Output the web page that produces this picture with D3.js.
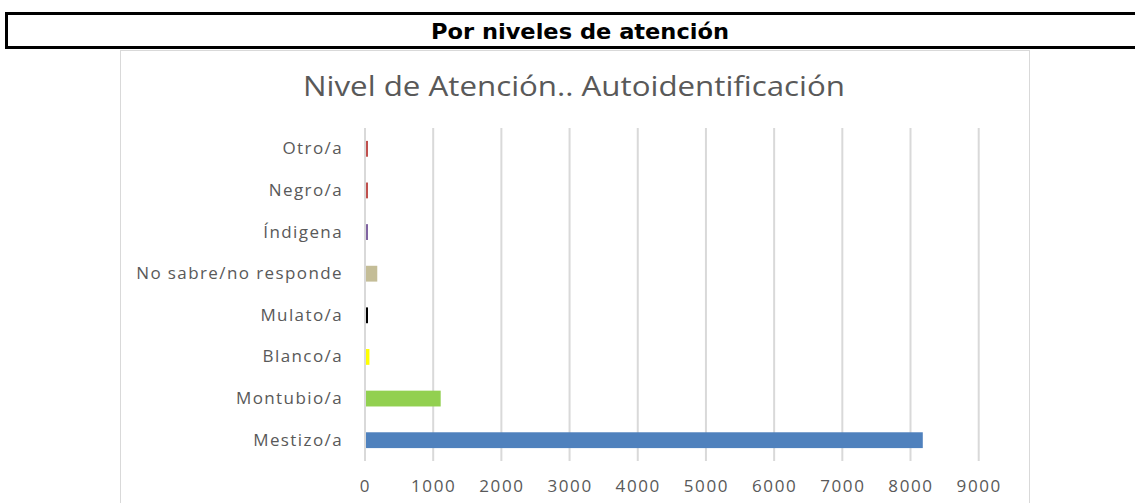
<!DOCTYPE html>
<html>
<head>
<meta charset="utf-8">
<script src="https://cdn.jsdelivr.net/npm/d3@7"></script>
<style>
  body { margin: 0; background: #fff; }
  svg { display: block; }
</style>
</head>
<body>
<svg id="chart" width="1135" height="503"></svg>
<script>
// Data
var categories = ['Mestizo/a', 'Montubio/a', 'Blanco/a', 'Mulato/a', 'No sabre/no responde', 'Índigena', 'Negro/a', 'Otro/a'];
var values = [8180, 1110, 65, 25, 180, 20, 20, 20];
var barColors = ['#4f81bd', '#92d050', '#ffff00', '#000000', '#c4bd97', '#8064a2', '#c0504d', '#c0504d'];
var xTicks = [0, 1000, 2000, 3000, 4000, 5000, 6000, 7000, 8000, 9000];

var svg = d3.select('#chart');
var textColor = '#595959';

// Header band
svg.append('rect')
  .attr('x', 6.5).attr('y', 13.5)
  .attr('width', 1140).attr('height', 34)
  .attr('fill', 'none')
  .attr('stroke', '#000')
  .attr('stroke-width', 3);

svg.append('text')
  .attr('x', 580).attr('y', 39)
  .attr('text-anchor', 'middle')
  .style('font-family', '"DejaVu Sans Condensed", "Open Sans", sans-serif')
  .style('font-stretch', 'condensed')
  .style('font-weight', 'bold')
  .style('font-size', '22px')
  .attr('textLength', 298)
  .attr('lengthAdjust', 'spacingAndGlyphs')
  .text('Por niveles de atención');

// Chart frame
svg.append('rect')
  .attr('x', 120.5).attr('y', 50.5)
  .attr('width', 909).attr('height', 470)
  .attr('fill', 'none')
  .attr('stroke', '#d9d9d9');

// Chart title
svg.append('text')
  .attr('x', 574).attr('y', 96)
  .attr('text-anchor', 'middle')
  .attr('fill', textColor)
  .style('font-family', 'Open Sans, sans-serif')
  .style('font-size', '27px')
  .attr('textLength', 542)
  .attr('lengthAdjust', 'spacingAndGlyphs')
  .text('Nivel de Atención.. Autoidentificación');

var margin = {left: 365, top: 128};
var plotBottom = 461;

var x = d3.scaleLinear().domain([0, 9000]).range([margin.left, 978.7]);
var y = d3.scaleBand().domain(categories.slice().reverse())
  .range([margin.top, plotBottom]).paddingInner(0.62).paddingOuter(0.31);

// Gridlines
svg.append('g')
  .selectAll('line')
  .data(xTicks)
  .enter().append('line')
  .attr('x1', function(d) { return x(d); })
  .attr('x2', function(d) { return x(d); })
  .attr('y1', margin.top)
  .attr('y2', plotBottom)
  .attr('stroke', '#d9d9d9')
  .attr('stroke-width', 2);

// Bars
var data = categories.map(function(c, i) { return {cat: c, val: values[i], color: barColors[i]}; });
svg.append('g')
  .selectAll('rect')
  .data(data)
  .enter().append('rect')
  .attr('x', x(0) + 1)
  .attr('y', function(d) { return y(d.cat); })
  .attr('width', function(d) { return Math.max(2, x(d.val) - x(0) - 1); })
  .attr('height', y.bandwidth())
  .attr('fill', function(d) { return d.color; });

// X axis labels
var xAxis = svg.append('g')
  .attr('transform', 'translate(0,' + plotBottom + ')')
  .call(d3.axisBottom(x).tickValues(xTicks).tickSize(0).tickPadding(19).tickFormat(d3.format('d')));
xAxis.select('.domain').remove();
xAxis.selectAll('text')
  .attr('fill', textColor)
  .style('font-family', 'Open Sans, sans-serif')
  .style('font-size', '17px')
  .style('letter-spacing', '1.6px');

// Y axis labels
var yAxis = svg.append('g')
  .attr('transform', 'translate(' + (margin.left - 22) + ',0)')
  .call(d3.axisLeft(y).tickSize(0).tickPadding(0));
yAxis.select('.domain').remove();
yAxis.selectAll('text')
  .attr('fill', textColor)
  .style('font-family', 'Open Sans, sans-serif')
  .style('font-size', '17px')
  .style('letter-spacing', '1.4px');
</script>
</body>
</html>
